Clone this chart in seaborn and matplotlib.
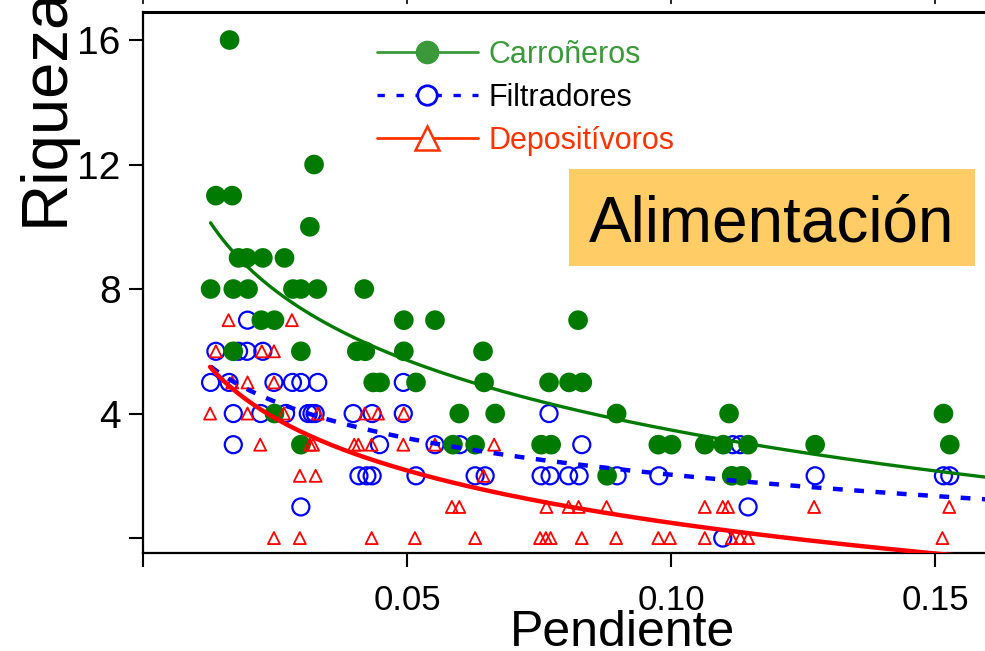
import numpy as np
import pandas as pd
import matplotlib
matplotlib.use("Agg")
import matplotlib.pyplot as plt
from matplotlib.lines import Line2D
from matplotlib.patches import Rectangle
import seaborn as sns

# ---------------- data ----------------
carr_x = [0.0164,
          0.0324,
          0.0138, 0.0169,
          0.0316,
          0.0181, 0.0197, 0.0227, 0.0268,
          0.0128, 0.0171, 0.0199, 0.0284, 0.0299, 0.0330, 0.0419,
          0.0224, 0.0249, 0.0494, 0.0553, 0.0824,
          0.0171, 0.0299, 0.0405, 0.0421, 0.0494, 0.0644,
          0.0436, 0.0449, 0.0517, 0.0646, 0.0769, 0.0807, 0.0832,
          0.0249, 0.0599, 0.0667, 0.0897, 0.1110, 0.1516,
          0.0299, 0.0587, 0.0629, 0.0754, 0.0773, 0.0976, 0.1001, 0.1064, 0.1099, 0.1146, 0.1273, 0.1528,
          0.0879, 0.1115, 0.1134]
carr_y = [16,
          12,
          11, 11,
          10,
          9, 9, 9, 9,
          8, 8, 8, 8, 8, 8, 8,
          7, 7, 7, 7, 7,
          6, 6, 6, 6, 6, 6,
          5, 5, 5, 5, 5, 5, 5,
          4, 4, 4, 4, 4, 4,
          3, 3, 3, 3, 3, 3, 3, 3, 3, 3, 3, 3,
          2, 2, 2]

filt_x = [0.0198,
          0.0138, 0.0181, 0.0197, 0.0227,
          0.0128, 0.0163, 0.0248, 0.0283, 0.0299, 0.0331, 0.0493,
          0.0171, 0.0223, 0.0270, 0.0313, 0.0320, 0.0326, 0.0398, 0.0434, 0.0493, 0.0769,
          0.0171, 0.0448, 0.0553, 0.0600, 0.0831, 0.1117, 0.1131,
          0.0409, 0.0424, 0.0434, 0.0517, 0.0629, 0.0648, 0.0754, 0.0771, 0.0806, 0.0826,
          0.0898, 0.0977, 0.1273, 0.1516, 0.1528,
          0.0299, 0.1146,
          0.1098]
filt_y = [7,
          6, 6, 6, 6,
          5, 5, 5, 5, 5, 5, 5,
          4, 4, 4, 4, 4, 4, 4, 4, 4, 4,
          3, 3, 3, 3, 3, 3, 3,
          2, 2, 2, 2, 2, 2, 2, 2, 2, 2,
          2, 2, 2, 2, 2,
          1, 1,
          0]

depo_x = [0.0162, 0.0282,
          0.0138, 0.0225, 0.0248,
          0.0169, 0.0198, 0.0248,
          0.0127, 0.0198, 0.0267, 0.0331, 0.0420, 0.0445, 0.0494,
          0.0222, 0.0316, 0.0322, 0.0400, 0.0408, 0.0433, 0.0493, 0.0553, 0.0665,
          0.0297, 0.0327, 0.0645,
          0.0585, 0.0599, 0.0764, 0.0806, 0.0825, 0.0878, 0.1064, 0.1098, 0.1108, 0.1271, 0.1527,
          0.0248, 0.0297, 0.0433, 0.0515, 0.0629, 0.0752, 0.0763, 0.0772, 0.0831, 0.0896,
          0.0976, 0.0998, 0.1064, 0.1115, 0.1131, 0.1146, 0.1514]
depo_y = [7, 7,
          6, 6, 6,
          5, 5, 5,
          4, 4, 4, 4, 4, 4, 4,
          3, 3, 3, 3, 3, 3, 3, 3, 3,
          2, 2, 2,
          1, 1, 1, 1, 1, 1, 1, 1, 1, 1, 1,
          0, 0, 0, 0, 0, 0, 0, 0, 0, 0,
          0, 0, 0, 0, 0, 0, 0]

series_names = ["Carroñeros", "Filtradores", "Depositívoros"]
x_ticks = [0.0, 0.05, 0.10, 0.15]
x_ticklabels = ["", "0.05", "0.10", "0.15"]
y_ticks = [0, 4, 8, 12, 16]
y_ticklabels = ["", "4", "8", "12", "16"]
panel_label = "Alimentación"
x_label = "Pendiente"
y_label = "Riqueza"

# ---------------- styling ----------------
sns.set_style("white")
plt.rcParams["font.family"] = ["Liberation Sans", "DejaVu Sans"]
plt.rcParams.update({"text.color": "black", "axes.labelcolor": "black",
                     "xtick.color": "black", "ytick.color": "black",
                     "xtick.bottom": True, "ytick.left": True})

W, H = 985, 651
fig = plt.figure(figsize=(W / 100, H / 100), dpi=100)

def fx(px):
    return px / W

def fy(py):
    return (H - py) / H

XMAX = 0.16
ax_left, ax_right = 143, 143 + XMAX * 5280
ax_top, ax_bot = 12, 553
ax = fig.add_axes([fx(ax_left), fy(ax_bot), fx(ax_right - ax_left), (ax_bot - ax_top) / H])

GREEN = "#007a00"
BLUE = "#0000ff"
RED = "#ff0000"

df_c = pd.DataFrame({"x": carr_x, "y": carr_y})
df_f = pd.DataFrame({"x": filt_x, "y": filt_y})
df_d = pd.DataFrame({"x": depo_x, "y": depo_y})

sns.scatterplot(data=df_f, x="x", y="y", ax=ax, marker="o", s=150,
                facecolor="none", edgecolor=BLUE, linewidth=1.6, zorder=3)
sns.scatterplot(data=df_c, x="x", y="y", ax=ax, marker="o", s=200,
                color=GREEN, edgecolor="none", linewidth=0, zorder=4)
sns.scatterplot(data=df_d, x="x", y="y", ax=ax, marker="^", s=75,
                facecolor="none", edgecolor=RED, linewidth=1.3, zorder=5)

# logarithmic fits computed from the data
def log_fit(df):
    b, a = np.polyfit(np.log(df["x"]), df["y"], 1)
    gx = np.linspace(df["x"].min(), XMAX, 200)
    return pd.DataFrame({"x": gx, "y": a + b * np.log(gx)})

sns.lineplot(data=log_fit(df_c), x="x", y="y", ax=ax, color=GREEN, lw=2.4,
             estimator=None, sort=False, zorder=6)
sns.lineplot(data=log_fit(df_f), x="x", y="y", ax=ax, color=BLUE, lw=3.2,
             linestyle=(0, (2.2, 2.6)), estimator=None, sort=False, zorder=6)
sns.lineplot(data=log_fit(df_d), x="x", y="y", ax=ax, color=RED, lw=3.2,
             estimator=None, sort=False, zorder=6)

ax.set_xlim(0, XMAX)
ax.set_ylim(-0.48, 16.9)
ax.set_xticks(x_ticks)
ax.set_xticklabels(x_ticklabels)
ax.set_yticks(y_ticks)
ax.set_yticklabels(y_ticklabels)
ax.set_xlabel("")
ax.set_ylabel("")
ax.tick_params(axis="both", direction="out", length=10, width=1.5, color="black",
               labelcolor="black", bottom=True, left=True)
ax.tick_params(axis="x", labelsize=25, pad=12)
ax.tick_params(axis="y", labelsize=28, pad=6)
for side in ["left", "bottom", "top"]:
    ax.spines[side].set_visible(True)
    ax.spines[side].set_color("black")
    ax.spines[side].set_linewidth(1.6)
ax.spines["top"].set_linewidth(2.2)
ax.spines["right"].set_visible(False)

# ticks of the panel above (cut off by the figure edge)
ax_up = fig.add_axes([fx(ax_left), 1.0 + 4 / H, fx(ax_right - ax_left), 0.2])
ax_up.set_xlim(0, XMAX)
ax_up.set_xticks(x_ticks)
ax_up.set_xticklabels([])
ax_up.set_yticks([])
ax_up.tick_params(axis="x", direction="out", length=6, width=1.2, color="black",
                  bottom=True)
for s in ax_up.spines.values():
    s.set_visible(False)
ax_up.patch.set_alpha(0)

# legend
handles = [
    Line2D([], [], color="#3a9a3a", lw=2, marker="o", markersize=16,
           markerfacecolor="#3a9a3a", markeredgecolor="#3a9a3a"),
    Line2D([], [], color=BLUE, lw=2.4, linestyle=(0, (2.2, 3.5)), marker="o", markersize=14,
           markerfacecolor="white", markeredgecolor=BLUE, markeredgewidth=2),
    Line2D([], [], color="#ff3300", lw=2, marker="^", markersize=17,
           markerfacecolor="white", markeredgecolor="#ff3300", markeredgewidth=1.8),
]
leg = ax.legend(handles, series_names, loc="upper left",
                bbox_to_anchor=(fx(377), fy(40)), bbox_transform=fig.transFigure,
                frameon=False, fontsize=22, handlelength=3.3, handletextpad=0.35,
                labelspacing=0.42, borderpad=0, borderaxespad=0)
for t, c in zip(leg.get_texts(), ["#3a9a3a", "black", "#ff3300"]):
    t.set_color(c)

# panel label box
fig.patches.append(Rectangle((fx(569), fy(266)), fx(975 - 569), (266 - 169) / H,
                             transform=fig.transFigure, facecolor="#ffcc66",
                             edgecolor="none", zorder=10))
fig.text(fx(772), fy(241.5), panel_label, fontsize=46, ha="center", va="baseline",
         color="black", zorder=11)

# axis labels
fig.text(fx(622), fy(646), x_label, fontsize=36, ha="center", va="baseline", color="black")
fig.text(fx(63), fy(226), y_label, fontsize=47, rotation=90, color="black",
         rotation_mode="anchor", ha="left", va="baseline")

fig.savefig("out.png", dpi=100)
